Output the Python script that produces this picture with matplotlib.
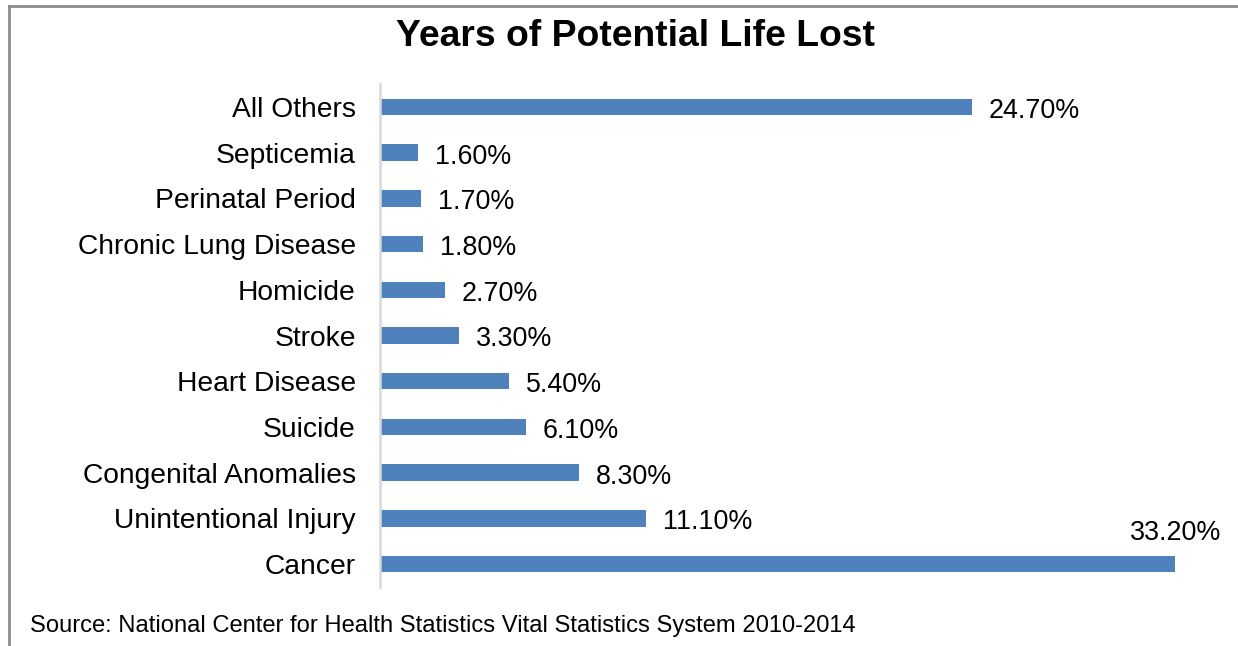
import matplotlib
matplotlib.use("Agg")
import matplotlib.pyplot as plt
from matplotlib.lines import Line2D

plt.rcParams['font.family'] = ['Liberation Sans', 'DejaVu Sans']

categories = ["Cancer", "Unintentional Injury", "Congenital Anomalies", "Suicide",
              "Heart Disease", "Stroke", "Homicide", "Chronic Lung Disease",
              "Perinatal Period", "Septicemia", "All Others"]
values = [33.2, 11.1, 8.3, 6.1, 5.4, 3.3, 2.7, 1.8, 1.7, 1.6, 24.7]
value_labels = ["33.20%", "11.10%", "8.30%", "6.10%", "5.40%", "3.30%", "2.70%",
                "1.80%", "1.70%", "1.60%", "24.70%"]
title = "Years of Potential Life Lost"
source = "Source: National Center for Health Statistics Vital Statistics System 2010-2014"

W, H = 1238, 646
fig = plt.figure(figsize=(W / 100, H / 100), dpi=100)

# axes geometry in pixels
left_px, right_px = 380, 380 + 35 * 23.95
top_px, bottom_px = 84, 587
ax = fig.add_axes([left_px / W, 1 - bottom_px / H, (right_px - left_px) / W, (bottom_px - top_px) / H])

bar_color = "#4F81BD"
y = list(range(len(categories)))
ax.barh(y, values, height=0.36, color=bar_color)
ax.set_xlim(0, 35)
ax.set_ylim(-0.5, len(categories) - 0.5)

ax.set_yticks(y)
ax.set_yticklabels(categories, fontsize=20.3, color="#000000")
ax.tick_params(axis='y', length=0, pad=17.5)
ax.set_xticks([])

for s in ["top", "right", "bottom"]:
    ax.spines[s].set_visible(False)
ax.spines["left"].set_color("#D9D9D9")
ax.spines["left"].set_linewidth(1.8)

for i, (v, lab) in enumerate(zip(values, value_labels)):
    if i == 0:
        ax.annotate(lab, xy=(v, i + 0.18), xytext=(0, 10), textcoords="offset pixels",
                    ha="center", va="bottom", fontsize=19.4)
    else:
        ax.annotate(lab, xy=(v, i), xytext=(17, -1), textcoords="offset pixels",
                    ha="left", va="center_baseline", fontsize=19.4)

fig.text(635 / W, 1 - 37 / H, title, ha="center", va="center",
         fontsize=26.8, fontweight="bold")
fig.text(30 / W, 1 - 626 / H, source, ha="left", va="center", fontsize=17.1)

# border (top and left)
fig.add_artist(Line2D([9 / W, 9 / W], [0, 1 - 5.5 / H], transform=fig.transFigure,
                      color="#8C8C8C", linewidth=2))
fig.add_artist(Line2D([9 / W, 1], [1 - 5.5 / H, 1 - 5.5 / H], transform=fig.transFigure,
                      color="#8C8C8C", linewidth=2))

fig.savefig("out.png", dpi=100)
